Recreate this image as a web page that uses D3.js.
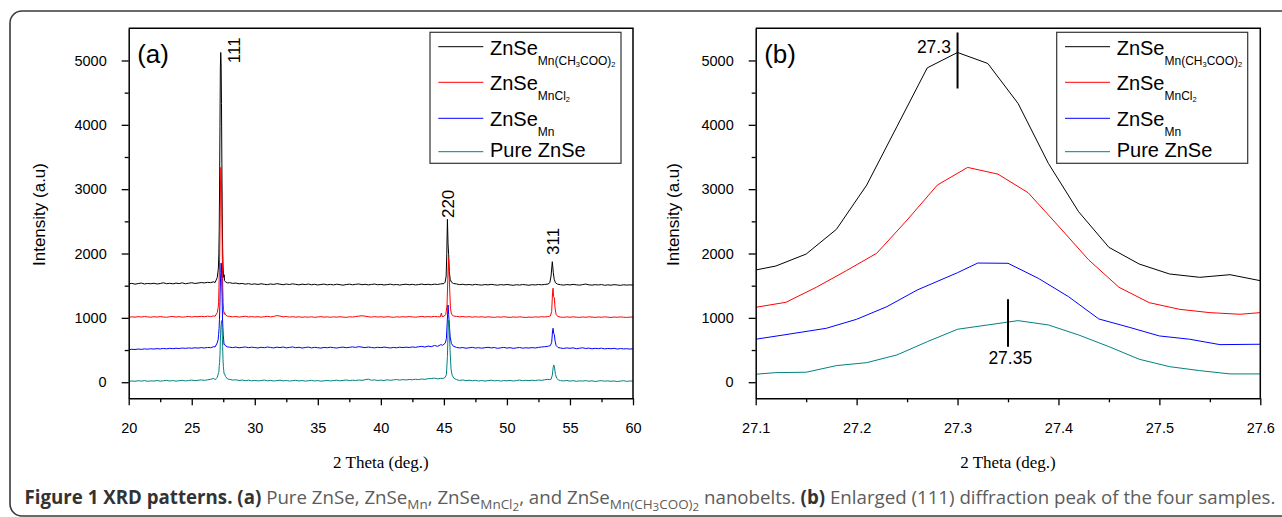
<!DOCTYPE html>
<html>
<head>
<meta charset="utf-8">
<script src="https://cdn.jsdelivr.net/npm/d3@7"></script>
<style>
  html, body { margin: 0; padding: 0; background: #fff; }
  svg { display: block; }
</style>
</head>
<body>
<svg id="fig" width="1282" height="517"></svg>
<script>
// ---------------------------------------------------------------------------
// XRD scans (panel a): counts on a constant-step 2θ grid, start 20°, step 0.25°
// ---------------------------------------------------------------------------
const scanStart = 20;
const scanStep = 0.25;

const blackCounts = [
  1528,1536,1524,1533,1541,1527,1535,1530,
  1538,1526,1534,1545,1531,1537,1529,1540,
  1533,1544,1530,1538,1546,1535,1541,1549,
  1543,1552,1548,1560,1580,1640,1700,1580,
  1548,1536,1541,1529,1535,1524,1532,1521,
  1528,1519,1530,1522,1516,1527,1520,1531,
  1524,1515,1526,1518,1529,1521,1513,1524,
  1517,1526,1514,1522,1511,1519,1525,1513,
  1520,1512,1523,1516,1508,1518,1524,1514,
  1521,1527,1515,1522,1512,1519,1526,1514,
  1520,1511,1517,1524,1513,1519,1510,1518,
  1523,1514,1521,1512,1518,1525,1516,1522,
  1515,1524,1519,1528,1533,1900,1650,1540,
  1527,1516,1522,1513,1519,1511,1520,1514,
  1509,1518,1512,1521,1514,1508,1517,1511,
  1519,1512,1506,1515,1510,1518,1513,1507,
  1516,1511,1519,1513,1520,1526,1800,1560,
  1524,1515,1509,1518,1512,1520,1514,1508,
  1517,1525,1513,1509,1516,1511,1518,1506,
  1513,1508,1516,1511,1505,1514,1509,1513,
  1510
];
const redCounts = [
  1008,1016,1011,1019,1013,1021,1015,1010,
  1018,1012,1020,1014,1009,1017,1022,1013,
  1019,1011,1016,1023,1014,1020,1017,1024,
  1018,1026,1021,1030,1060,1700,1500,1050,
  1024,1015,1021,1012,1019,1025,1014,1020,
  1013,1019,1011,1018,1024,1015,1022,1035,
  1028,1016,1021,1012,1018,1011,1017,1009,
  1015,1010,1017,1008,1014,1019,1011,1016,
  1009,1015,1011,1018,1012,1008,1016,1013,
  1020,1027,1033,1026,1018,1012,1019,1013,
  1017,1011,1019,1014,1008,1016,1012,1018,
  1013,1020,1015,1010,1017,1023,1014,1019,
  1016,1022,1018,1030,1070,1800,1400,1040,
  1024,1016,1021,1013,1019,1011,1017,1012,
  1018,1010,1016,1012,1008,1015,1011,1017,
  1012,1007,1014,1010,1016,1011,1006,1013,
  1009,1015,1011,1018,1014,1020,1400,1100,
  1019,1012,1008,1015,1010,1016,1011,1007,
  1014,1009,1016,1012,1007,1013,1010,1015,
  1011,1006,1013,1009,1015,1010,1007,1012,
  1014
];
const blueCounts = [
  505,512,508,516,510,518,513,520,
  515,522,517,525,519,527,521,528,
  524,531,526,533,528,535,530,538,
  532,540,537,552,600,1500,1300,560,
  545,538,546,535,541,548,537,544,
  539,532,543,536,547,540,533,545,
  538,547,534,541,548,536,543,531,
  539,546,533,542,536,530,541,535,
  544,537,531,540,546,536,542,549,
  541,553,545,538,547,540,534,543,
  537,546,539,532,541,535,544,538,
  545,539,548,542,551,557,546,562,
  552,571,558,583,600,1150,700,560,
  541,532,539,528,535,542,531,537,
  529,536,543,533,539,527,534,541,
  530,537,526,533,540,529,535,531,
  538,532,541,547,552,558,800,620,
  540,531,525,533,527,534,521,528,
  535,524,530,519,527,522,529,518,
  525,520,527,516,523,518,521,515,
  519
];
const tealCounts = [
  12,19,15,23,17,25,14,21,
  18,26,16,22,29,19,25,17,
  23,30,20,27,33,24,30,36,
  29,37,45,60,120,900,500,80,
  45,33,38,27,34,24,31,22,
  28,20,26,33,22,29,19,25,
  31,21,27,18,24,30,20,26,
  17,23,29,19,25,16,22,28,
  20,26,31,22,28,35,25,31,
  27,34,29,38,48,30,36,27,
  33,26,38,30,36,42,33,40,
  35,43,38,46,41,50,44,55,
  58,63,52,60,70,900,300,60,
  40,28,35,24,31,22,29,19,
  26,18,24,31,21,28,17,25,
  22,29,18,26,33,23,30,24,
  31,26,34,29,38,45,250,90,
  35,25,20,27,17,24,14,21,
  18,25,15,22,12,19,24,16,
  21,14,19,11,17,23,13,20,
  16
];

// Fine-step readings across the (111) peak, 27.1° – 27.6° (panel b)
const blackPeak111 = [[27.10,1744],[27.12,1806],[27.15,1992],[27.18,2376],[27.21,3064],[27.24,3975],[27.27,4885],[27.30,5124],[27.33,4953],[27.36,4332],[27.39,3401],[27.42,2649],[27.45,2096],[27.48,1837],[27.51,1682],[27.54,1630],[27.57,1671],[27.60,1578]];
const redPeak111   = [[27.10,1164],[27.13,1242],[27.16,1475],[27.19,1735],[27.22,2005],[27.25,2520],[27.28,3064],[27.31,3338],[27.34,3234],[27.37,2944],[27.40,2427],[27.43,1900],[27.46,1475],[27.49,1236],[27.52,1133],[27.55,1081],[27.58,1056],[27.60,1081]];
const bluePeak111  = [[27.10,668],[27.13,740],[27.17,838],[27.20,978],[27.23,1174],[27.26,1433],[27.30,1702],[27.32,1852],[27.35,1848],[27.38,1615],[27.41,1329],[27.44,983],[27.47,854],[27.50,719],[27.53,668],[27.56,584],[27.60,590]];
const tealPeak111  = [[27.10,124],[27.12,149],[27.15,155],[27.18,258],[27.21,304],[27.24,424],[27.27,630],[27.30,823],[27.33,890],[27.36,957],[27.39,890],[27.42,734],[27.45,553],[27.48,357],[27.51,242],[27.54,180],[27.57,129],[27.60,129]];

// Peak feet on either side of the (111) reflection
const blackFeet111 = [[26.85,1548],[27.02,1625],[27.68,1560],[27.85,1542]];
const redFeet111   = [[26.85,1025],[27.02,1080],[27.68,1045],[27.85,1025]];
const blueFeet111  = [[26.85,548],[27.02,610],[27.68,565],[27.85,548]];
const tealFeet111  = [[26.85,38],[27.02,75],[27.68,90],[27.85,48]];

// (220) reflection profiles
const blackPeak220 = [[45.00,1532],[45.10,1555],[45.18,1650],[45.23,2000],[45.28,2531],[45.33,2150],[45.38,1980],[45.43,1720],[45.50,1600],[45.60,1555],[45.75,1535]];
const redPeak220   = [[44.72,1016],[44.80,1075],[44.86,1020],[45.00,1025],[45.15,1050],[45.25,1200],[45.31,1600],[45.36,1941],[45.41,1700],[45.46,1450],[45.52,1150],[45.60,1060],[45.75,1028]];
const bluePeak220  = [[44.90,575],[45.00,590],[45.12,610],[45.20,680],[45.27,950],[45.33,1200],[45.38,1050],[45.43,900],[45.50,700],[45.60,600],[45.75,560]];
const tealPeak220  = [[44.95,60],[45.10,75],[45.20,120],[45.28,400],[45.34,850],[45.38,967],[45.43,800],[45.50,450],[45.57,200],[45.65,110],[45.80,60]];

// (311) reflection profiles
const blackPeak311 = [[53.25,1525],[53.40,1545],[53.50,1650],[53.60,1873],[53.68,1700],[53.75,1600],[53.85,1545],[54.00,1525]];
const redPeak311   = [[53.30,1022],[53.45,1030],[53.55,1100],[53.62,1400],[53.66,1460],[53.70,1330],[53.76,1310],[53.82,1150],[53.90,1050],[54.05,1022]];
const bluePeak311  = [[53.30,560],[53.45,570],[53.55,620],[53.62,800],[53.66,838],[53.71,760],[53.76,740],[53.82,640],[53.90,570],[54.05,540]];
const tealPeak311  = [[53.35,40],[53.50,45],[53.60,110],[53.67,230],[53.72,268],[53.78,220],[53.85,120],[53.95,60],[54.10,35]];

const seriesNames = ["ZnSeMn(CH3COO)2", "ZnSeMnCl2", "ZnSeMn", "Pure ZnSe"];
const seriesColors = ["#000000", "#ff0000", "#0000ff", "#008080"];

// legend label pieces: [text, level] (0 normal, 1 subscript, 2 sub-subscript)
const legendLabels = [
  [["ZnSe",0],["Mn(CH",1],["3",2],["COO)",1],["2",2]],
  [["ZnSe",0],["MnCl",1],["2",2]],
  [["ZnSe",0],["Mn",1]],
  [["Pure ZnSe",0]]
];

// axis ticks
const yMajor = [0, 1000, 2000, 3000, 4000, 5000];
const yMinor = [500, 1500, 2500, 3500, 4500];
const aMajor = [20, 25, 30, 35, 40, 45, 50, 55, 60];
const aMinor = [22.5, 27.5, 32.5, 37.5, 42.5, 47.5, 52.5, 57.5];
const bMajor = [27.1, 27.2, 27.3, 27.4, 27.5, 27.6];
const bMinor = [27.15, 27.25, 27.35, 27.45, 27.55];

const hklLabels = ["111", "220", "311"];
const hklPositions = [27.3, 45.3, 53.6];
const peakMarks = [27.30, 27.35];
const peakMarkLabels = ["27.3", "27.35"];

// ---------------------------------------------------------------------------
const svg = d3.select("#fig");
const FONT = "'Liberation Sans', Arial, Helvetica, sans-serif";
const SERIF = "'Liberation Serif', 'Times New Roman', serif";
const yDomain = [-250, 5500];

// outer figure frame
svg.append("rect")
  .attr("x", 10).attr("y", 11)
  .attr("width", 1300).attr("height", 505)
  .attr("rx", 12)
  .attr("fill", "none").attr("stroke", "#3a3a3a").attr("stroke-width", 1.6);

// merge the coarse scan with the fine peak profiles
function buildScan(counts, segments) {
  const windows = segments.map(s => d3.extent(s, d => d[0]));
  const pts = [];
  counts.forEach((c, i) => {
    const t = scanStart + i * scanStep;
    if (!windows.some(w => t >= w[0] - 1e-9 && t <= w[1] + 1e-9)) pts.push([t, c]);
  });
  segments.forEach(s => s.forEach(p => pts.push(p)));
  return pts.sort((a, b) => a[0] - b[0]);
}

const scansA = [
  buildScan(blackCounts, [blackPeak111.concat(blackFeet111), blackPeak220, blackPeak311]),
  buildScan(redCounts,   [redPeak111.concat(redFeet111),     redPeak220,   redPeak311]),
  buildScan(blueCounts,  [bluePeak111.concat(blueFeet111),   bluePeak220,  bluePeak311]),
  buildScan(tealCounts,  [tealPeak111.concat(tealFeet111),   tealPeak220,  tealPeak311])
];
const scansB = [blackPeak111, redPeak111, bluePeak111, tealPeak111];

function styleAxis(sel) {
  sel.attr("font-family", FONT).attr("font-size", 14.5);
  sel.selectAll(".domain").attr("stroke", "#000").attr("stroke-width", 1.5);
  sel.selectAll(".tick line").attr("stroke", "#000").attr("stroke-width", 1.3);
  sel.selectAll(".tick text").attr("fill", "#000");
}

function drawPanel(p, xDomain, xMajor, xMinor, xFmt, scans, id) {
  const x = d3.scaleLinear().domain(xDomain).range([p.left, p.right]);
  const y = d3.scaleLinear().domain(yDomain).range([p.bottom, p.top]);
  const g = svg.append("g");

  g.append("clipPath").attr("id", id)
    .append("rect").attr("x", p.left).attr("y", p.top)
    .attr("width", p.right - p.left).attr("height", p.bottom - p.top);

  // data
  const line = d3.line().x(d => x(d[0])).y(d => y(d[1]));
  const dg = g.append("g").attr("clip-path", `url(#${id})`);
  scans.forEach((s, i) => {
    dg.append("path").datum(s)
      .attr("d", line)
      .attr("fill", "none")
      .attr("stroke", seriesColors[i])
      .attr("stroke-width", 1)
      .attr("stroke-linejoin", "round");
  });

  // minor ticks
  g.append("g").attr("transform", `translate(0,${p.bottom})`)
    .call(d3.axisBottom(x).tickValues(xMinor).tickSize(4).tickFormat(""))
    .call(s => s.select(".domain").remove()).call(styleAxis);
  g.append("g").attr("transform", `translate(${p.left},0)`)
    .call(d3.axisLeft(y).tickValues(yMinor).tickSize(4).tickFormat(""))
    .call(s => s.select(".domain").remove()).call(styleAxis);

  // major ticks and axis lines
  g.append("g").attr("transform", `translate(0,${p.bottom})`)
    .call(d3.axisBottom(x).tickValues(xMajor).tickSize(7).tickSizeOuter(0).tickPadding(17).tickFormat(xFmt))
    .call(styleAxis);
  g.append("g").attr("transform", `translate(${p.left},0)`)
    .call(d3.axisLeft(y).tickValues(yMajor).tickSize(7).tickSizeOuter(0).tickPadding(15).tickFormat(d3.format("d")))
    .call(styleAxis);

  // top and right frame
  g.append("path")
    .attr("d", `M${p.left},${p.top}H${p.right}V${p.bottom}`)
    .attr("fill", "none").attr("stroke", "#000").attr("stroke-width", 1.5);

  // axis titles
  g.append("text")
    .attr("x", (p.left + p.right) / 2).attr("y", 468)
    .attr("text-anchor", "middle")
    .attr("font-family", SERIF).attr("font-size", 17).attr("fill", "#000")
    .text("2 Theta (deg.)");
  g.append("text")
    .attr("transform", `translate(${p.yTitleX},214.5) rotate(-90)`)
    .attr("text-anchor", "middle")
    .attr("font-family", FONT).attr("font-size", 17).attr("fill", "#000")
    .text("Intensity (a.u)");

  // panel tag
  g.append("text")
    .attr("x", p.left + 8.5).attr("y", 63.3)
    .attr("font-family", FONT).attr("font-size", 26).attr("fill", "#000")
    .text(p.tag);

  // legend
  const lx = p.legendX, ly = 32.3;
  const lg = g.append("g");
  lg.append("rect")
    .attr("x", lx).attr("y", ly).attr("width", 191).attr("height", 131)
    .attr("fill", "#fff").attr("stroke", "#333").attr("stroke-width", 1.2);
  const rowBase = [22.7, 57.7, 93.7, 124.7];
  const rowLine = [14.4, 50.0, 86.0, 119.4];
  const levelSize = [20, 12, 7.5];
  const levelShift = [0, 9.5, 11.5];
  legendLabels.forEach((parts, i) => {
    lg.append("line")
      .attr("x1", lx + 8.3).attr("x2", lx + 53.3)
      .attr("y1", ly + rowLine[i]).attr("y2", ly + rowLine[i])
      .attr("stroke", seriesColors[i]).attr("stroke-width", 1);
    const t = lg.append("text")
      .attr("x", lx + 60).attr("y", ly + rowBase[i])
      .attr("font-family", FONT).attr("fill", "#000");
    parts.forEach(([txt, lev]) => {
      t.append("tspan")
        .attr("y", ly + rowBase[i] + levelShift[lev])
        .attr("font-size", levelSize[lev])
        .text(txt);
    });
  });

  return { x, y, g };
}

const panelA = { left: 128.7, right: 633, top: 28.3, bottom: 398.3, yTitleX: 44.6, tag: "(a)", legendX: 430 };
const panelB = { left: 755.7, right: 1260.3, top: 28.3, bottom: 398.3, yTitleX: 678.5, tag: "(b)", legendX: 1056.7 };

const A = drawPanel(panelA, [20, 60], aMajor, aMinor, d3.format("d"), scansA, "clipA");
const B = drawPanel(panelB, [27.1, 27.6], bMajor, bMinor, d3.format(".1f"), scansB, "clipB");

// hkl labels above the reflections of the top scan
const hklOffsets = [[19, 10.7], [7, -1.3], [7, -6.7]];
hklLabels.forEach((lab, i) => {
  const near = scansA[0].filter(d => Math.abs(d[0] - hklPositions[i]) < 0.5);
  const top = d3.greatest(near, d => d[1]);
  const px = A.x(top[0]) + hklOffsets[i][0];
  const py = A.y(top[1]) + hklOffsets[i][1];
  A.g.append("text")
    .attr("transform", `translate(${px},${py}) rotate(-90)`)
    .attr("font-family", FONT).attr("font-size", 17).attr("fill", "#000")
    .text(lab);
});

// peak-position markers in panel b
function valueAt(series, t) {
  const i = d3.bisector(d => d[0]).left(series, t);
  const a = series[Math.max(0, i - 1)], b = series[Math.min(series.length - 1, i)];
  if (a[0] === b[0]) return a[1];
  return a[1] + (b[1] - a[1]) * (t - a[0]) / (b[0] - a[0]);
}
const markSeries = [blackPeak111, tealPeak111];
const markStyle = [
  { up: 20, down: 36, lx: -6.6, ly: 0.4, anchor: "end" },
  { up: 22.8, down: 24.6, lx: 2.3, ly: 42.2, anchor: "middle" }
];
peakMarks.forEach((t, i) => {
  const px = B.x(t);
  const py = B.y(valueAt(markSeries[i], t));
  const st = markStyle[i];
  B.g.append("line")
    .attr("x1", px).attr("x2", px)
    .attr("y1", py - st.up).attr("y2", py + st.down)
    .attr("stroke", "#000").attr("stroke-width", 2);
  B.g.append("text")
    .attr("x", px + st.lx).attr("y", py + st.ly)
    .attr("text-anchor", st.anchor)
    .attr("font-family", FONT).attr("font-size", 17.5).attr("fill", "#000")
    .text(peakMarkLabels[i]);
});

// figure caption
const captionParts = [
  ["Figure 1 XRD patterns.", 1, 0], [" ", 0, 0], ["(a)", 1, 0],
  [" Pure ZnSe, ZnSe", 0, 0], ["Mn", 0, 1],
  [", ZnSe", 0, 0], ["MnCl", 0, 1], ["2", 0, 2],
  [", and ZnSe", 0, 0], ["Mn(CH", 0, 1], ["3", 0, 2], ["COO)", 0, 1], ["2", 0, 2],
  [" nanobelts. ", 0, 0], ["(b)", 1, 0],
  [" Enlarged (111) diffraction peak of the four samples.", 0, 0]
];
const capBase = 504;
const capSize = [1, 0.72, 0.62];
const capShift = [0, 0.26, 0.36];
const cap = svg.append("text")
  .attr("x", 24.5).attr("y", capBase)
  .attr("font-family", "'Open Sans', 'Noto Sans', sans-serif");
function layoutCaption(fs) {
  cap.selectAll("tspan").remove();
  captionParts.forEach(([txt, bold, lev]) => {
    cap.append("tspan")
      .attr("y", capBase + capShift[lev] * fs)
      .attr("font-size", fs * capSize[lev])
      .attr("font-weight", bold ? 700 : 400)
      .attr("fill", bold ? "#333333" : "#5c5c5c")
      .attr("xml:space", "preserve")
      .text(txt);
  });
}
layoutCaption(16);
const capLen = cap.node().getComputedTextLength();
layoutCaption(16 * 1252 / capLen);
</script>
</body>
</html>
